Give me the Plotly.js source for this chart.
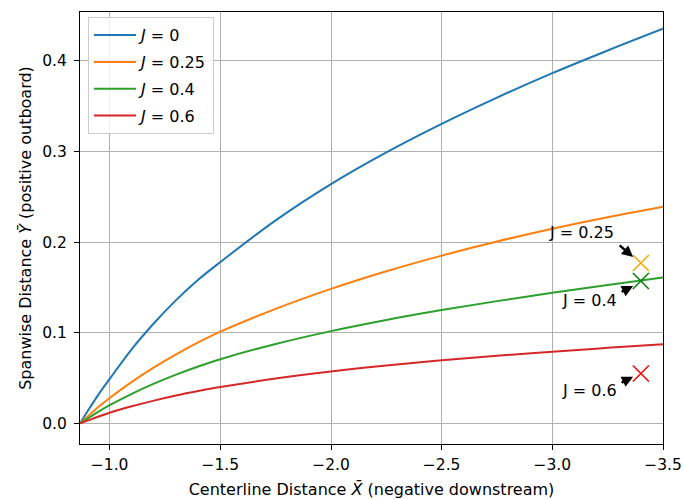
<!DOCTYPE html>
<html>
<head>
<meta charset="utf-8">
<script src="https://cdn.plot.ly/plotly-3.0.1.min.js"></script>
<style>html,body{margin:0;padding:0;background:#fff}#chart{width:683px;height:499px}</style>
</head>
<body>
<div id="chart"></div>
<script>
// Centerline distance (x) samples
const xs = [-0.866, -0.9, -0.95, -1.0, -1.1, -1.2, -1.3, -1.4, -1.5, -1.75, -2.0, -2.25, -2.5, -2.75, -3.0, -3.25, -3.5];
// Spanwise distance per J
const yJ0   = [0, 0.0133, 0.032, 0.049, 0.082, 0.1105, 0.136, 0.1585, 0.178, 0.224, 0.264, 0.299, 0.3305, 0.3595, 0.3865, 0.4115, 0.4355];
const yJ025 = [0, 0.0075, 0.0183, 0.028, 0.0458, 0.0618, 0.0762, 0.0893, 0.1012, 0.1264, 0.1484, 0.1678, 0.1851, 0.2007, 0.2148, 0.2275, 0.2391];
const yJ04  = [0, 0.0053, 0.013, 0.020, 0.0326, 0.0438, 0.0538, 0.0628, 0.0708, 0.0876, 0.1018, 0.1141, 0.125, 0.1349, 0.1441, 0.1527, 0.1609];
const yJ06  = [0, 0.003, 0.0075, 0.0117, 0.0188, 0.0251, 0.0307, 0.0356, 0.040, 0.0494, 0.0572, 0.0638, 0.0695, 0.0745, 0.079, 0.0833, 0.0874];
const seriesNames = ['<i>J</i> = 0', '<i>J</i> = 0.25', '<i>J</i> = 0.4', '<i>J</i> = 0.6'];
const seriesColors = ['#1f77b4', '#ff7f0e', '#2ca02c', '#d62728'];

// Measured points (x markers)
const markX = [-3.4, -3.4, -3.4];
const markY = [0.177, 0.157, 0.055];
const markColors = ['orange', 'green', 'red'];
const markLabels = ['J = 0.25', 'J = 0.4', 'J = 0.6'];
const labelX = [-3.134, -3.168, -3.168];
const labelY = [0.2111, 0.136, 0.0368];
const arrowHeadX = [-3.365, -3.365, -3.365];
const arrowHeadY = [0.1836, 0.1515, 0.0514];
const arrowTailDx = [-14, -12, -12];
const arrowTailDy = [-12, 6, 6];

const xTicks = [-1.0, -1.5, -2.0, -2.5, -3.0, -3.5];
const xTickText = ['\u22121.0', '\u22121.5', '\u22122.0', '\u22122.5', '\u22123.0', '\u22123.5'];
const yTicks = [0, 0.1, 0.2, 0.3, 0.4];
const yTickText = ['0.0', '0.1', '0.2', '0.3', '0.4'];

const FONT = 'DejaVu Sans, sans-serif';
const ys = [yJ0, yJ025, yJ04, yJ06];
const traces = ys.map((y, i) => ({
  x: xs, y: y, type: 'scatter', mode: 'lines', name: seriesNames[i], legendgroup: 'g' + i,
  line: {color: seriesColors[i], width: 2, shape: 'spline', smoothing: 1}
}));
traces.push({
  x: markX, y: markY, type: 'scatter', mode: 'markers', showlegend: false,
  marker: {symbol: 'x-thin-open', size: 16, color: markColors, line: {color: markColors, width: 1.5}}
});

const annotations = [];
for (let i = 0; i < markLabels.length; i++) {
  annotations.push({x: labelX[i], y: labelY[i], xref: 'x', yref: 'y', text: markLabels[i],
    showarrow: false, font: {family: FONT, size: 16, color: '#000'}});
  annotations.push({x: arrowHeadX[i], y: arrowHeadY[i], xref: 'x', yref: 'y', text: '',
    font: {size: 1}, borderpad: 0,
    showarrow: true, ax: arrowTailDx[i], ay: arrowTailDy[i], arrowhead: 2, arrowsize: 0.9,
    arrowwidth: 2.5, arrowcolor: '#000', standoff: 0, startstandoff: 0});
}

const axisCommon = {
  showline: true, linecolor: '#000', linewidth: 1, mirror: true,
  ticks: 'outside', ticklen: 5, tickwidth: 1, tickcolor: '#000',
  showgrid: true, gridcolor: '#b0b0b0', gridwidth: 1, zeroline: false,
  tickfont: {family: FONT, size: 15.5, color: '#000'}, automargin: false
};

const layout = {
  width: 683, height: 499,
  margin: {l: 80, r: 19.5, t: 12, b: 55},
  paper_bgcolor: '#fff', plot_bgcolor: '#fff',
  font: {family: FONT, size: 16, color: '#000'},
  xaxis: Object.assign({}, axisCommon, {
    range: [-0.866, -3.5], tickvals: xTicks, ticktext: xTickText, ticklabelstandoff: 1,
    title: {text: 'Centerline Distance <i>X\u0304</i> (negative downstream)', font: {family: FONT, size: 16, color: '#000'}, standoff: 12}
  }),
  yaxis: Object.assign({}, axisCommon, {
    range: [-0.0228, 0.454], tickvals: yTicks, ticktext: yTickText, ticklabelstandoff: 4,
    title: {text: 'Spanwise Distance <i>Y\u0304</i> (positive outboard)', font: {family: FONT, size: 16, color: '#000'}, standoff: 6}
  }),
  showlegend: true,
  legend: {x: 0.0137, y: 0.988, xanchor: 'left', yanchor: 'top', bgcolor: 'rgba(255,255,255,0.8)',
    bordercolor: '#cccccc', borderwidth: 1, itemwidth: 42, tracegroupgap: 3,
    font: {family: FONT, size: 16, color: '#000'}},
  annotations: annotations
};

Plotly.newPlot('chart', traces, layout, {displayModeBar: false, staticPlot: true});
</script>
</body>
</html>
